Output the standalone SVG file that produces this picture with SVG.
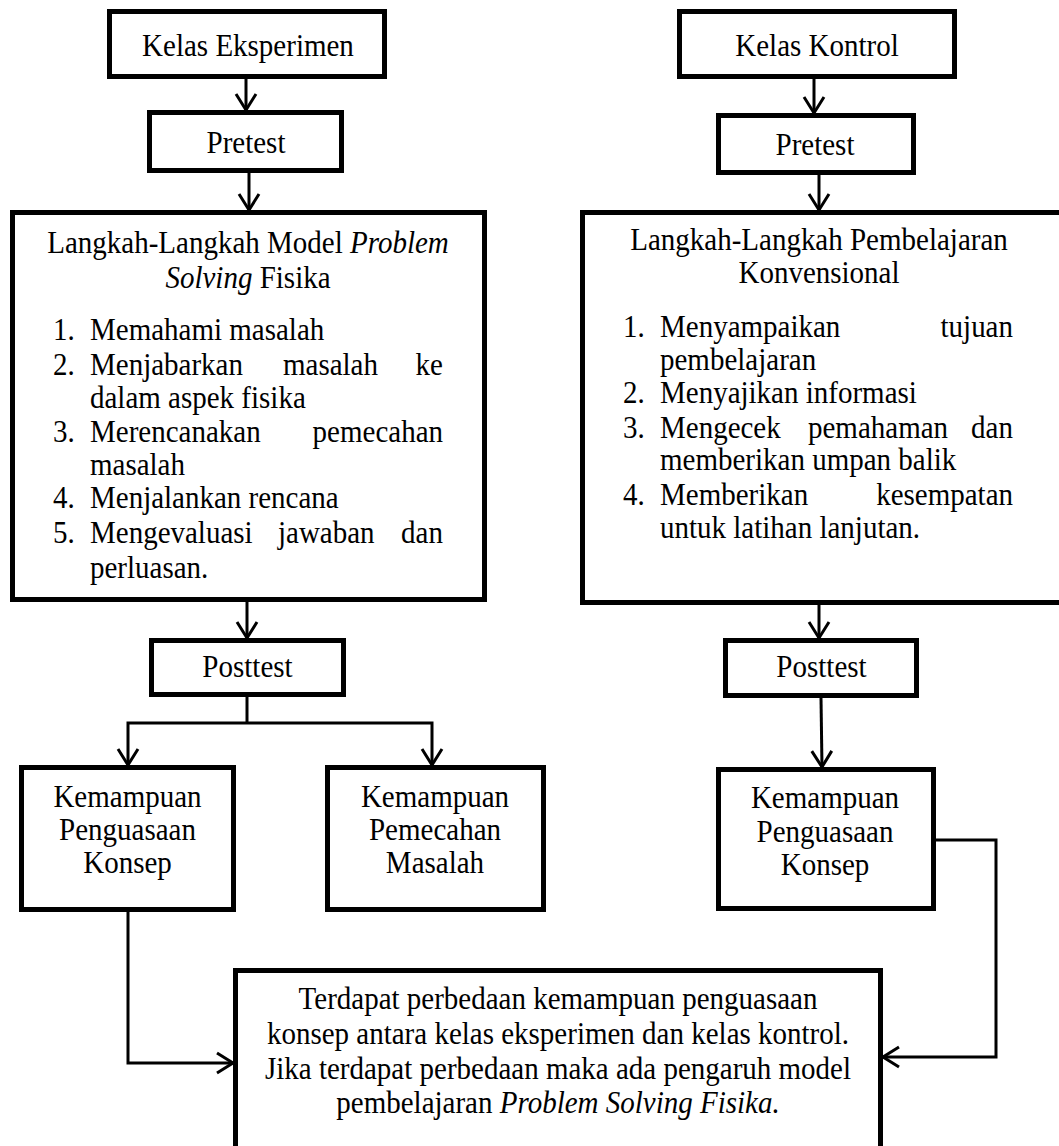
<svg xmlns="http://www.w3.org/2000/svg" width="1059" height="1146" viewBox="0 0 1059 1146" font-family="Liberation Serif, Times New Roman, Times, serif">
<style>
.box { fill: #fff; stroke: #000; stroke-width: 5; }
.t { font-family: 'Liberation Serif', 'Times New Roman', Times, serif; font-size: 29px; fill: #000; }
.c { text-anchor: middle; }
.e { text-anchor: end; }
.i { font-style: italic; }
.conn { fill: none; stroke: #000; stroke-width: 3; }
</style>
<defs>
<marker id="arr" markerUnits="userSpaceOnUse" viewBox="-20 -14 24 28" refX="0" refY="0" markerWidth="24" markerHeight="28" orient="auto" overflow="visible">
<path d="M-16,-10 L0,0 L-16,10" fill="none" stroke="#000" stroke-width="3"/>
</marker>
</defs>
<rect width="1059" height="1146" fill="#fff"/>

<g id="kelas-eksperimen">
<rect class="box" x="109.5" y="11.5" width="275" height="65"/>
<g transform="scale(1,1.09)"><text class="t c" x="248" y="51.38">Kelas Eksperimen</text></g>
</g>
<g id="pretest-eksperimen">
<rect class="box" x="149.5" y="112.5" width="192" height="58"/>
<g transform="scale(1,1.09)"><text class="t c" x="246" y="140.37">Pretest</text></g>
</g>
<g id="langkah-problem-solving">
<rect class="box" x="12.5" y="212.5" width="472" height="387"/>
<g transform="scale(1,1.09)">
<text class="t c" x="248" y="232.11">Langkah-Langkah Model <tspan class="i">Problem</tspan></text>
<text class="t c" x="248" y="264.22"><tspan class="i">Solving</tspan> Fisika</text>
<text class="t" x="53" y="311.93">1.</text><text class="t" x="90" y="311.93">Memahami masalah</text>
<text class="t" x="53" y="344.04">2.</text><text class="t" x="90" y="344.04">Menjabarkan</text><text class="t" x="283" y="344.04">masalah</text><text class="t e" x="443" y="344.04">ke</text>
<text class="t" x="90" y="374.31">dalam aspek fisika</text>
<text class="t" x="53" y="405.50">3.</text><text class="t" x="90" y="405.50">Merencanakan</text><text class="t e" x="443" y="405.50">pemecahan</text>
<text class="t" x="90" y="435.78">masalah</text>
<text class="t" x="53" y="466.06">4.</text><text class="t" x="90" y="466.06">Menjalankan rencana</text>
<text class="t" x="53" y="498.17">5.</text><text class="t" x="90" y="498.17">Mengevaluasi</text><text class="t" x="278" y="498.17">jawaban</text><text class="t e" x="443" y="498.17">dan</text>
<text class="t" x="90" y="530.28">perluasan.</text>
</g>
</g>
<g id="posttest-eksperimen">
<rect class="box" x="151.5" y="640.5" width="192" height="54"/>
<g transform="scale(1,1.09)"><text class="t c" x="247.5" y="621.10">Posttest</text></g>
</g>
<g id="penguasaan-konsep-eksperimen">
<rect class="box" x="21.5" y="767.5" width="212" height="142"/>
<g transform="scale(1,1.09)">
<text class="t c" x="127.5" y="740.37">Kemampuan</text>
<text class="t c" x="127.5" y="770.64">Penguasaan</text>
<text class="t c" x="127.5" y="800.92">Konsep</text>
</g>
</g>
<g id="pemecahan-masalah">
<rect class="box" x="327.5" y="767.5" width="216" height="142"/>
<g transform="scale(1,1.09)">
<text class="t c" x="435" y="740.37">Kemampuan</text>
<text class="t c" x="435" y="770.64">Pemecahan</text>
<text class="t c" x="435" y="800.92">Masalah</text>
</g>
</g>

<g id="kelas-kontrol">
<rect class="box" x="679.5" y="11.5" width="275" height="65"/>
<g transform="scale(1,1.09)"><text class="t c" x="817" y="51.38">Kelas Kontrol</text></g>
</g>
<g id="pretest-kontrol">
<rect class="box" x="718.5" y="115.5" width="195" height="57"/>
<g transform="scale(1,1.09)"><text class="t c" x="815" y="142.20">Pretest</text></g>
</g>
<g id="langkah-konvensional">
<rect class="box" x="582.5" y="212.5" width="490" height="390"/>
<g transform="scale(1,1.09)">
<text class="t c" x="819" y="229.36">Langkah-Langkah Pembelajaran</text>
<text class="t c" x="819" y="259.63">Konvensional</text>
<text class="t" x="623" y="309.17">1.</text><text class="t" x="660" y="309.17">Menyampaikan</text><text class="t e" x="1013" y="309.17">tujuan</text>
<text class="t" x="660" y="339.45">pembelajaran</text>
<text class="t" x="623" y="369.72">2.</text><text class="t" x="660" y="369.72">Menyajikan informasi</text>
<text class="t" x="623" y="401.83">3.</text><text class="t" x="660" y="401.83">Mengecek</text><text class="t" x="808" y="401.83">pemahaman</text><text class="t e" x="1013" y="401.83">dan</text>
<text class="t" x="660" y="431.19">memberikan umpan balik</text>
<text class="t" x="623" y="463.30">4.</text><text class="t" x="660" y="463.30">Memberikan</text><text class="t e" x="1013" y="463.30">kesempatan</text>
<text class="t" x="660" y="493.58">untuk latihan lanjutan.</text>
</g>
</g>
<g id="posttest-kontrol">
<rect class="box" x="725.5" y="640.5" width="191" height="55"/>
<g transform="scale(1,1.09)"><text class="t c" x="821.5" y="621.10">Posttest</text></g>
</g>
<g id="penguasaan-konsep-kontrol">
<rect class="box" x="718.5" y="769.5" width="215" height="139"/>
<g transform="scale(1,1.09)">
<text class="t c" x="825" y="741.28">Kemampuan</text>
<text class="t c" x="825" y="772.48">Penguasaan</text>
<text class="t c" x="825" y="802.75">Konsep</text>
</g>
</g>

<g id="kesimpulan">
<rect class="box" x="235.5" y="970.5" width="645" height="200"/>
<g transform="scale(1,1.09)">
<text class="t c" x="558" y="925.69">Terdapat perbedaan kemampuan penguasaan</text>
<text class="t c" x="558" y="957.80">konsep antara kelas eksperimen dan kelas kontrol.</text>
<text class="t c" x="558" y="989.91">Jika terdapat perbedaan maka ada pengaruh model</text>
<text class="t c" x="558" y="1021.10">pembelajaran <tspan class="i">Problem Solving Fisika.</tspan></text>
</g>
</g>

<g id="connectors">
<path class="conn" marker-end="url(#arr)" d="M246,79 V110"/>
<path class="conn" marker-end="url(#arr)" d="M249,173 V210"/>
<path class="conn" marker-end="url(#arr)" d="M247,602 V638"/>
<path class="conn" d="M247,697 V723"/>
<path class="conn" marker-end="url(#arr)" d="M247,723 H128 V765"/>
<path class="conn" marker-end="url(#arr)" d="M247,723 H432 V765"/>
<path class="conn" marker-end="url(#arr)" d="M814,79 V113"/>
<path class="conn" marker-end="url(#arr)" d="M819,175 V210"/>
<path class="conn" marker-end="url(#arr)" d="M819,605 V638"/>
<path class="conn" marker-end="url(#arr)" d="M821,698 L822,767"/>
<path class="conn" marker-end="url(#arr)" d="M128,912 V1063 H233"/>
<path class="conn" marker-end="url(#arr)" d="M936,840 H996 V1057 H883"/>
</g>
</svg>
